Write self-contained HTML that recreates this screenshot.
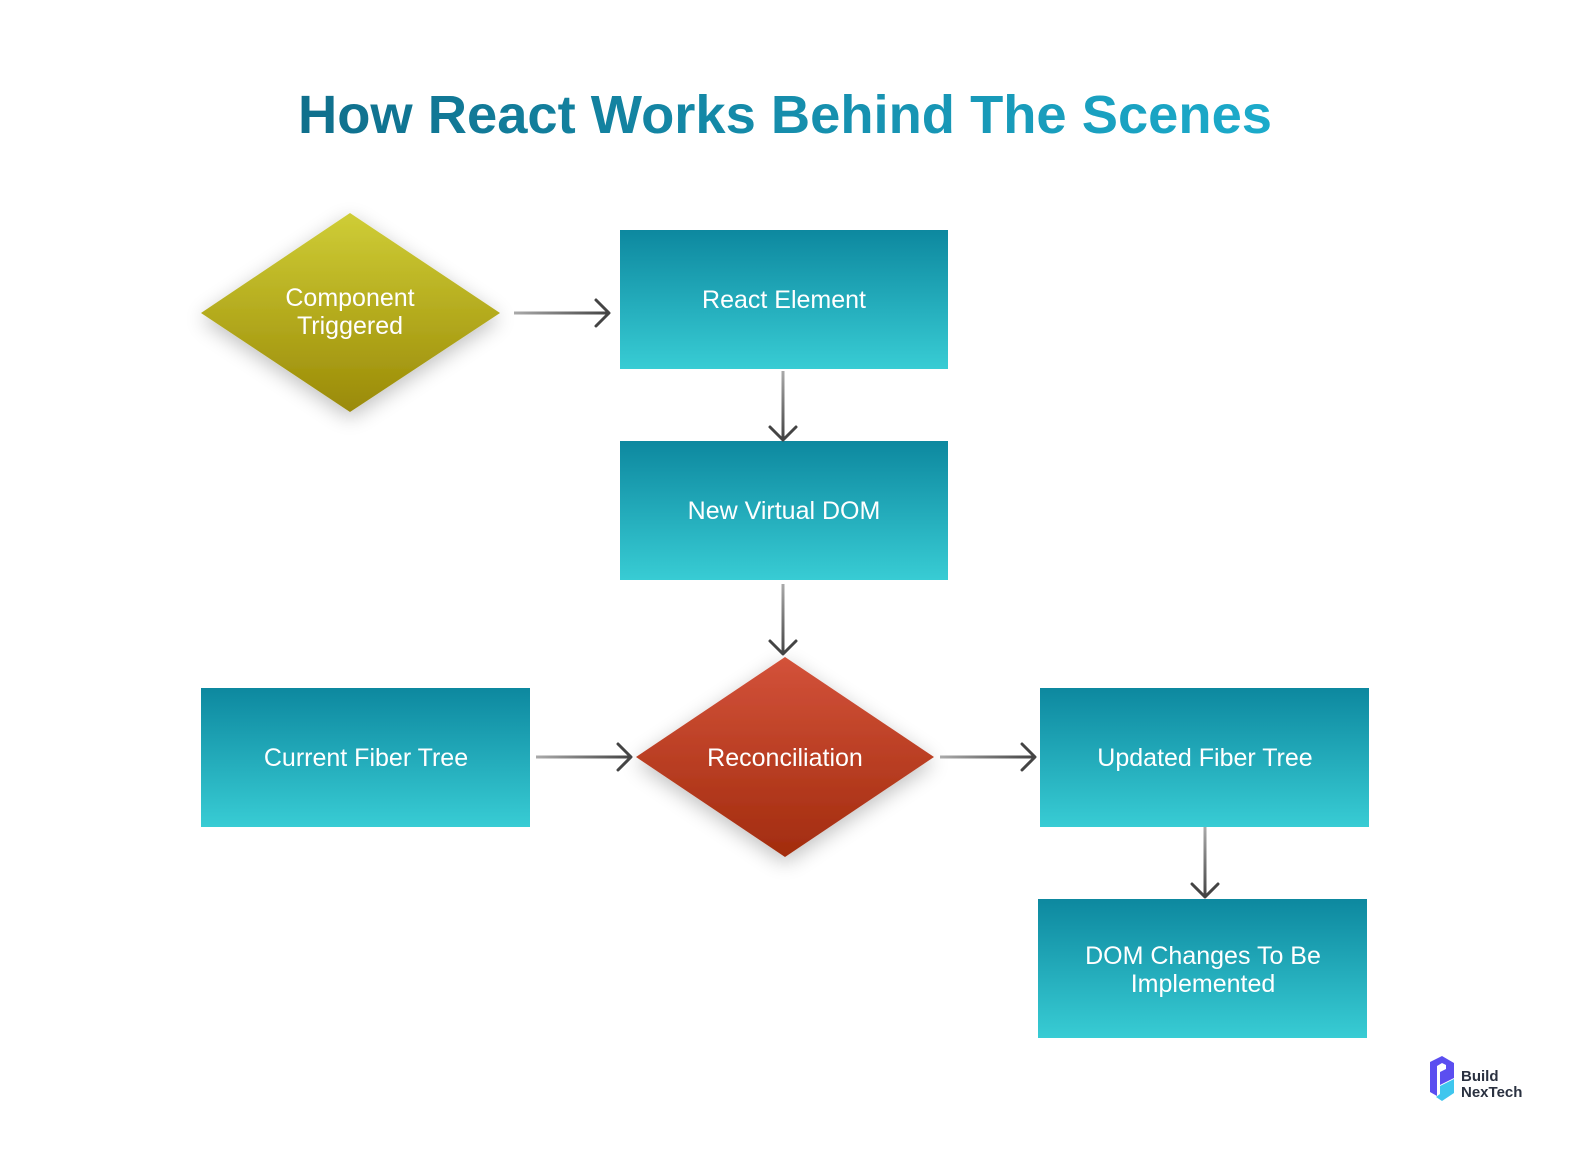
<!DOCTYPE html>
<html><head><meta charset="utf-8"><style>
html,body{margin:0;padding:0;background:#fff;overflow:hidden;width:1574px;height:1152px;}
svg{display:block;font-family:"Liberation Sans",sans-serif;}
</style></head><body>
<svg width="1574" height="1152" viewBox="0 0 1574 1152" xmlns="http://www.w3.org/2000/svg">
<defs>
<linearGradient id="box" x1="0" y1="0" x2="0" y2="1"><stop offset="0" stop-color="#0d889f"/><stop offset="1" stop-color="#38ccd4"/></linearGradient>
<linearGradient id="yel" x1="0" y1="0" x2="0" y2="1"><stop offset="0" stop-color="#cfcd36"/><stop offset="1" stop-color="#9a8a07"/></linearGradient>
<linearGradient id="red" x1="0" y1="0" x2="0" y2="1"><stop offset="0" stop-color="#d3523a"/><stop offset="1" stop-color="#a22c0e"/></linearGradient>
<linearGradient id="title" x1="0" y1="0" x2="1" y2="0"><stop offset="0" stop-color="#0f6f8c"/><stop offset="1" stop-color="#1cabcb"/></linearGradient>
<linearGradient id="ah" x1="0" y1="0" x2="1" y2="0"><stop offset="0" stop-color="#aaa"/><stop offset="1" stop-color="#444"/></linearGradient>
<linearGradient id="av" x1="0" y1="0" x2="0" y2="1"><stop offset="0" stop-color="#aaa"/><stop offset="1" stop-color="#444"/></linearGradient>
<filter id="sh" x="-30%" y="-30%" width="160%" height="160%"><feGaussianBlur in="SourceAlpha" stdDeviation="10"/><feOffset dy="6"/><feComponentTransfer><feFuncA type="linear" slope="0.25"/></feComponentTransfer><feMerge><feMergeNode/><feMergeNode in="SourceGraphic"/></feMerge></filter>
</defs>
<text x="785" y="133" text-anchor="middle" font-size="54" font-weight="bold" fill="url(#title)" textLength="974" lengthAdjust="spacingAndGlyphs">How React Works Behind The Scenes</text>

<polygon points="350,213 500,313 350,412 201,313" fill="url(#yel)" filter="url(#sh)"/>
<text x="350" y="306" text-anchor="middle" font-size="25" fill="#fff">Component</text>
<text x="350" y="334" text-anchor="middle" font-size="25" fill="#fff">Triggered</text>

<polygon points="785,657 934,757 785,857 636,757" fill="url(#red)" filter="url(#sh)"/>
<text x="785" y="766" text-anchor="middle" font-size="25" fill="#fff">Reconciliation</text>

<g font-size="25" fill="#fff" text-anchor="middle">
<rect x="620" y="230" width="328" height="139" fill="url(#box)"/>
<text x="784" y="308">React Element</text>
<rect x="620" y="441" width="328" height="139" fill="url(#box)"/>
<text x="784" y="519">New Virtual DOM</text>
<rect x="201" y="688" width="329" height="139" fill="url(#box)"/>
<text x="366" y="766">Current Fiber Tree</text>
<rect x="1040" y="688" width="329" height="139" fill="url(#box)"/>
<text x="1205" y="766">Updated Fiber Tree</text>
<rect x="1038" y="899" width="329" height="139" fill="url(#box)"/>
<text x="1203" y="964">DOM Changes To Be</text>
<text x="1203" y="992">Implemented</text>
</g>

<rect x="514" y="311.5" width="94" height="3" fill="url(#ah)"/>
<rect x="536" y="755.5" width="94" height="3" fill="url(#ah)"/>
<rect x="940" y="755.5" width="94" height="3" fill="url(#ah)"/>
<rect x="781.5" y="371" width="3" height="68" fill="url(#av)"/>
<rect x="781.5" y="584" width="3" height="70" fill="url(#av)"/>
<rect x="1203.5" y="827" width="3" height="70" fill="url(#av)"/>
<g stroke-width="3" fill="none" stroke-linecap="round" stroke-linejoin="round" stroke="#444">
<polyline points="596,300 609,313 596,326"/>
<polyline points="618,744 631,757 618,770"/>
<polyline points="1022,744 1035,757 1022,770"/>
<polyline points="770,427 783,440 796,427"/>
<polyline points="770,641 783,654 796,641"/>
<polyline points="1192,884 1205,897 1218,884"/>
</g>

<g>
<polygon points="1430,1062 1442,1056 1454,1063 1454,1078 1440,1085 1440,1072 1446,1069 1446,1065 1442,1063 1437,1066 1437,1096 1430,1092" fill="#5b4ef0"/>
<polygon points="1440,1086 1454,1079 1454,1093 1442,1101 1436,1097 1440,1094" fill="#3fc6ee"/>
<text x="1461" y="1081" font-size="15" font-weight="bold" fill="#2a3140">Build</text>
<text x="1461" y="1097" font-size="15" font-weight="bold" fill="#2a3140">NexTech</text>
</g>
</svg>
</body></html>
